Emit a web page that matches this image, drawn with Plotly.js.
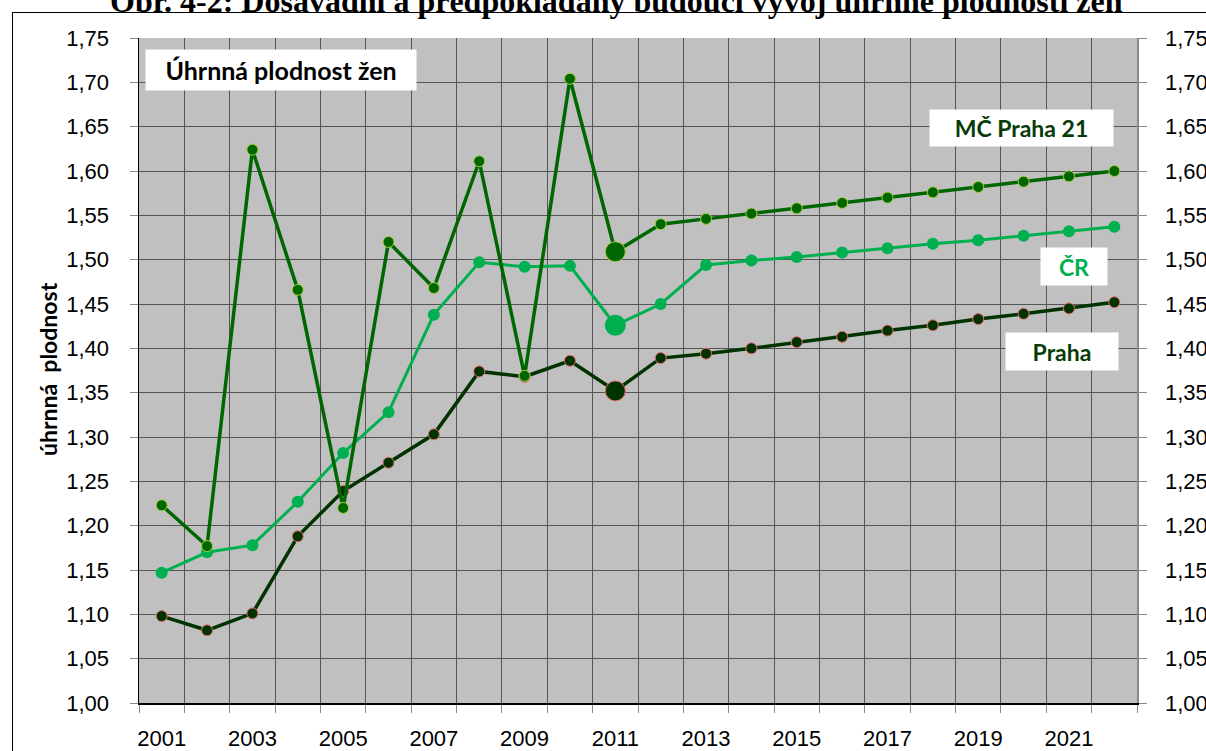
<!DOCTYPE html>
<html>
<head>
<meta charset="utf-8">
<script src="https://cdn.plot.ly/plotly-3.0.1.min.js"></script>
<style>
  html, body { margin:0; padding:0; background:#fff; overflow:hidden; }
  #wrap { position:relative; width:1206px; height:751px; overflow:hidden; }
  #chart { width:1206px; height:751px; }
  #frame { position:absolute; left:12px; top:12px; width:1300px; height:900px; border:1.5px solid #000; pointer-events:none; }
</style>
</head>
<body>
<div id="wrap">
  <div id="chart"></div>
  <div id="frame"></div>
</div>
<script>
const years = [2001,2002,2003,2004,2005,2006,2007,2008,2009,2010,2011,2012,2013,2014,2015,2016,2017,2018,2019,2020,2021,2022];
const mcPraha21 = [1.223,1.177,1.624,1.466,1.220,1.520,1.468,1.611,1.369,1.704,1.509,1.540,1.546,1.552,1.558,1.564,1.570,1.576,1.582,1.588,1.594,1.600];
const cr        = [1.147,1.170,1.178,1.227,1.282,1.328,1.438,1.497,1.492,1.493,1.426,1.450,1.494,1.499,1.503,1.508,1.513,1.518,1.522,1.527,1.532,1.537];
const praha     = [1.098,1.082,1.101,1.188,1.239,1.271,1.303,1.374,1.368,1.386,1.352,1.389,1.394,1.400,1.407,1.413,1.420,1.426,1.433,1.439,1.445,1.452];
const xTickYears = [2001,2003,2005,2007,2009,2011,2013,2015,2017,2019,2021];
const xTickLabels = ["2001","2003","2005","2007","2009","2011","2013","2015","2017","2019","2021"];
const yTicks = [1.00,1.05,1.10,1.15,1.20,1.25,1.30,1.35,1.40,1.45,1.50,1.55,1.60,1.65,1.70,1.75];
const seriesNames = ["Praha","ČR","MČ Praha 21"];
const chartTitle = "Obr. 4-2: Dosavadní a předpokládaný budoucí vývoj úhrnné plodnosti žen";
const boxTitle = "Úhrnná plodnost žen";
const yTitle = "úhrnná  plodnost";

const big = 2011;
const sz = (n, b) => years.map(y => y === big ? b : n);

const tickFont = {family: "Liberation Sans, Arial, sans-serif", size: 22, color: "#000"};

const traces = [
  {x: years, y: praha, name: seriesNames[0], type: "scatter", mode: "lines+markers",
   line: {color: "#003300", width: 3.5},
   marker: {color: "#003300", opacity: 1, size: sz(11, 20), line: {color: "#E86A6A", width: 1}}},
  {x: years, y: cr, name: seriesNames[1], type: "scatter", mode: "lines+markers",
   line: {color: "#00B050", width: 3},
   marker: {color: "#00B050", opacity: 1, size: sz(12, 21), line: {color: "#00B050", width: 0}}},
  {x: years, y: mcPraha21, name: seriesNames[2], type: "scatter", mode: "lines+markers",
   line: {color: "#006600", width: 3.5},
   marker: {color: "#006600", opacity: 1, size: sz(11, 20), line: {color: "#A6D03A", width: 1}}},
  {x: years, y: praha, xaxis: "x2", yaxis: "y2", type: "scatter", mode: "markers",
   marker: {opacity: 0}, hoverinfo: "skip", showlegend: false}
];

const layout = {
  width: 1206, height: 751,
  margin: {l: 139, r: 69, t: 38, b: 48},
  paper_bgcolor: "#fff",
  plot_bgcolor: "#C0C0C0",
  separators: ", ",
  showlegend: false,
  title: {text: "<b>" + chartTitle + "</b>", x: 0.511, xanchor: "center", y: 0.999, yref: "container", yanchor: "middle",
          font: {family: "Liberation Serif, Times New Roman, serif", size: 32, color: "#000"}},
  xaxis: {type: "linear", range: [2000.5, 2022.5], tick0: 2000.5, dtick: 1, showgrid: true, gridcolor: "#555", gridwidth: 1,
          ticks: "outside", ticklen: 8, tickcolor: "#888", showticklabels: false,
          showline: true, linecolor: "#000", linewidth: 2, zeroline: false, fixedrange: true},
  xaxis2: {type: "linear", overlaying: "x", side: "bottom", range: [2000.5, 2022.5], tickvals: xTickYears, ticktext: xTickLabels,
           ticks: "", showgrid: false, showline: false, zeroline: false, tickfont: tickFont, ticklabelstandoff: 20},
  yaxis: {range: [1.0, 1.75], tickvals: yTicks, tickformat: ".2f", showgrid: true, gridcolor: "#555", gridwidth: 1,
          ticks: "outside", ticklen: 8, tickcolor: "#888", showline: true, linecolor: "#000", linewidth: 1.5,
          zeroline: false, tickfont: tickFont, ticklabelstandoff: 16},
  yaxis2: {range: [1.0, 1.75], overlaying: "y", side: "right", tickvals: yTicks, tickformat: ".2f", showgrid: false,
           ticks: "outside", ticklen: 8, tickcolor: "#888", showline: true, linecolor: "#888", linewidth: 1.5,
           zeroline: false, tickfont: tickFont, ticklabelstandoff: 14},
  annotations: [
    {text: "<b>" + boxTitle + "</b>", xref: "paper", yref: "paper", x: (281 - 139) / 998, y: (703 - 70) / 665,
     xanchor: "center", yanchor: "middle", showarrow: false, bgcolor: "#fff", width: 268, height: 38,
     font: {family: "Lato, Open Sans, sans-serif", size: 25, color: "#000"}},
    {text: "<b>" + seriesNames[2] + "</b>", xref: "paper", yref: "paper", x: (1021 - 139) / 998, y: (703 - 128) / 665,
     xanchor: "center", yanchor: "middle", showarrow: false, bgcolor: "#fff", width: 181, height: 34,
     font: {family: "Lato, Open Sans, sans-serif", size: 23, color: "#063B06"}},
    {text: "<b>" + seriesNames[1] + "</b>", xref: "paper", yref: "paper", x: (1074 - 139) / 998, y: (703 - 266) / 665,
     xanchor: "center", yanchor: "middle", showarrow: false, bgcolor: "#fff", width: 64, height: 35,
     font: {family: "Lato, Open Sans, sans-serif", size: 23, color: "#00B050"}},
    {text: "<b>" + seriesNames[0] + "</b>", xref: "paper", yref: "paper", x: (1062 - 139) / 998, y: (703 - 351) / 665,
     xanchor: "center", yanchor: "middle", showarrow: false, bgcolor: "#fff", width: 110, height: 35,
     font: {family: "Lato, Open Sans, sans-serif", size: 23, color: "#063B06"}},
    {text: "<b>" + yTitle.replace(/ /g, "&nbsp;") + "</b>", xref: "paper", yref: "paper", x: (48 - 139) / 998, y: (703 - 369) / 665,
     xanchor: "center", yanchor: "middle", showarrow: false, textangle: -90,
     font: {family: "Lato, Open Sans, sans-serif", size: 23, color: "#000"}}
  ]
};

Plotly.newPlot("chart", traces, layout, {displayModeBar: false, staticPlot: true});
</script>
</body>
</html>
